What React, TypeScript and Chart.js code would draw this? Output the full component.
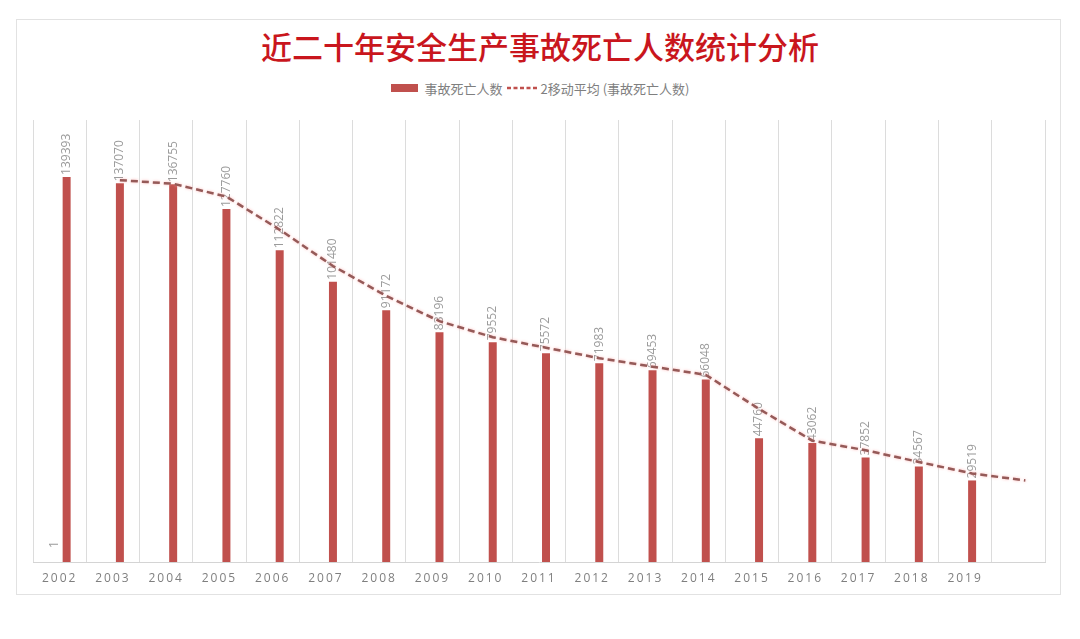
import React, { useEffect, useRef } from "react";
import { Chart, registerables } from "chart.js";

Chart.register(...registerables);

const categories = ["2002", "2003", "2004", "2005", "2006", "2007", "2008", "2009", "2010", "2011", "2012", "2013", "2014", "2015", "2016", "2017", "2018", "2019", ""];
const deaths = [139393, 137070, 136755, 127760, 112822, 101480, 91172, 83196, 79552, 75572, 71983, 69453, 66048, 44760, 43062, 37852, 34567, 29519, null];
const helperSeries = [1, null, null, null, null, null, null, null, null, null, null, null, null, null, null, null, null, null, null];
const movingAvg = [null, 138232, 136913, 132258, 120291, 107151, 96326, 87184, 81374, 77562, 73778, 70718, 67751, 55404, 43911, 40457, 36210, 32043, 29519];

const TITLE = "近二十年安全生产事故死亡人数统计分析";
const BAR_LABEL = "事故死亡人数";
const LINE_LABEL = "2移动平均 (事故死亡人数)";

const BAR_COLOR = "#c0504d";
const LINE_COLOR = "#955a58";

export default function App() {
  const canvasRef = useRef<HTMLCanvasElement | null>(null);

  useEffect(() => {
    const canvas = canvasRef.current;
    if (!canvas) return;

    const plugin = {
      id: "custom",
      beforeDraw(chart: any) {
        chart.ctx.letterSpacing = "2px";
      },
      afterDraw(chart: any) {
        chart.ctx.letterSpacing = "0px";
      },
      beforeDatasetDraw(chart: any, args: any) {
        const ctx = chart.ctx;
        if (args.index === 2) {
          const barMeta = chart.getDatasetMeta(1);
          const xs = chart.scales.x;
          const dx = barMeta.data[0].x - xs.getPixelForValue(0);
          ctx.save();
          ctx.translate(dx, 0);
          ctx.shadowColor = "rgba(255,170,170,0.8)";
          ctx.shadowBlur = 3;
        }
      },
      afterDatasetDraw(chart: any, args: any) {
        const ctx = chart.ctx;
        if (args.index === 2) {
          ctx.restore();
          return;
        }
        if (args.index === 0 || args.index === 1) {
          const ds = chart.data.datasets[args.index];
          const meta = chart.getDatasetMeta(args.index);
          ctx.save();
          ctx.letterSpacing = "0px";
          ctx.fillStyle = "#9b9b9b";
          ctx.font = "12px 'Open Sans'";
          ctx.textAlign = "left";
          ctx.textBaseline = "middle";
          meta.data.forEach((el: any, i: number) => {
            const v = ds.data[i];
            if (v === null || v === undefined) return;
            ctx.save();
            ctx.translate(el.x + (args.index === 0 ? 2 : 0), el.y - (args.index === 0 ? 14 : 2));
            ctx.rotate(-Math.PI / 2);
            ctx.fillText(String(v), 0, 0);
            ctx.restore();
          });
          ctx.restore();
        }
      },
    };

    const chart = new Chart(canvas, {
      type: "bar",
      data: {
        labels: categories,
        datasets: [
          {
            type: "bar",
            label: "helper",
            data: helperSeries,
            backgroundColor: "rgba(0,0,0,0)",
            order: 1,
          },
          {
            type: "bar",
            label: BAR_LABEL,
            data: deaths,
            backgroundColor: BAR_COLOR,
            order: 2,
          },
          {
            type: "line",
            label: LINE_LABEL,
            data: movingAvg,
            borderColor: LINE_COLOR,
            borderWidth: 2.5,
            borderDash: [7, 4],
            pointRadius: 0,
            tension: 0,
            fill: false,
            spanGaps: true,
            order: 0,
          },
        ] as any,
      },
      options: {
        animation: false,
        responsive: false,
        maintainAspectRatio: false,
        categoryPercentage: 0.526,
        barPercentage: 0.57,
        layout: { padding: { left: 33, right: 35, top: 120, bottom: 0 } },
        plugins: {
          legend: { display: false },
          title: { display: false },
          tooltip: { enabled: false },
        },
        scales: {
          x: {
            offset: true,
            grid: { display: true, offset: true, color: "#dcdcdc", drawTicks: false },
            border: { display: true, color: "#d4d4d4" },
            ticks: {
              color: "#7f7f7f",
              font: { family: "'Open Sans'", size: 12 },
              padding: 9,
              maxRotation: 0,
              autoSkip: false,
            },
            afterFit(scale: any) {
              scale.height = 77;
            },
          },
          y: {
            display: false,
            min: 0,
            max: 160000,
          },
        },
      } as any,
      plugins: [plugin],
    });

    return () => chart.destroy();
  }, []);

  return (
    <div style={{ position: "fixed", left: 0, top: 0, width: 1080, height: 639, background: "#ffffff", overflow: "hidden" }}>
      <div
        style={{
          position: "absolute",
          left: 16,
          top: 19,
          width: 1045,
          height: 576,
          border: "1px solid #e2e2e2",
          boxSizing: "border-box",
        }}
      />
      <div
        style={{
          position: "absolute",
          left: 0,
          width: 1080,
          top: 26,
          textAlign: "center",
          fontFamily: "'Noto Sans CJK SC'",
          fontSize: 31,
          fontWeight: 500,
          color: "#c9161d",
          lineHeight: "40px",
        }}
      >
        {TITLE}
      </div>
      <div
        style={{
          position: "absolute",
          left: 0,
          width: 1080,
          top: 78,
          height: 20,
          display: "flex",
          justifyContent: "center",
          alignItems: "center",
          fontFamily: "'Noto Sans CJK SC'",
          fontSize: 13,
          color: "#7f7f7f",
          paddingLeft: 0,
        }}
      >
        <span style={{ display: "inline-block", width: 27, height: 8, background: BAR_COLOR, marginRight: 7 }} />
        <span>{BAR_LABEL}</span>
        <svg width="32" height="10" style={{ margin: "0 3px" }}>
          <line x1="1" y1="5" x2="31" y2="5" stroke={BAR_COLOR} strokeWidth="2.5" strokeDasharray="4 2.5" />
        </svg>
        <span>{LINE_LABEL}</span>
      </div>
      <canvas ref={canvasRef} width={1080} height={639} style={{ position: "absolute", left: 0, top: 0 }} />
    </div>
  );
}
